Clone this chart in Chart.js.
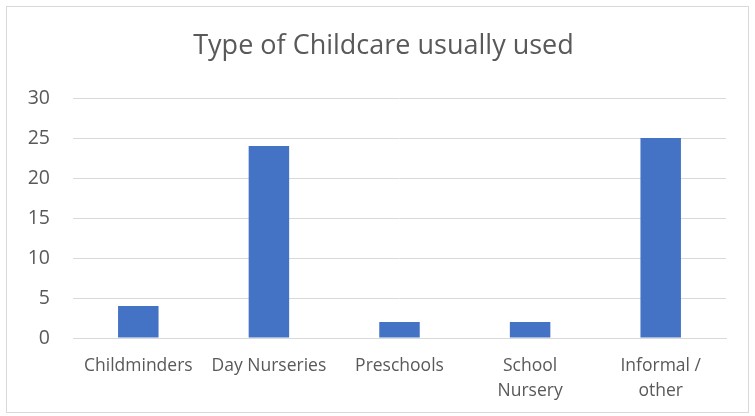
<!DOCTYPE html>
<html>
<head>
<meta charset="utf-8">
<title>Type of Childcare usually used</title>
<script src="https://cdn.jsdelivr.net/npm/chart.js@4.4.1/dist/chart.umd.min.js"></script>
<style>
  html, body { margin: 0; padding: 0; background: #ffffff; }
  #wrap { position: relative; width: 755px; height: 416px; }
</style>
</head>
<body>
<div id="wrap"><canvas id="childcareChart" width="755" height="416"></canvas></div>
<script>
const chartTitle = "Type of Childcare usually used";
const categories = ["Childminders", "Day Nurseries", "Preschools", ["School", "Nursery"], ["Informal /", "other"]];
const counts = [4, 24, 2, 2, 25];
const yTicks = [0, 5, 10, 15, 20, 25, 30];

const textColor = "#595959";
const gridColor = "#d9d9d9";
const fontFamily = "'Open Sans', 'Liberation Sans', sans-serif";

// thin grey frame round the whole chart, plus the title centred in the frame
const frame = {
    id: "frame",
    beforeDraw(chart) {
        const ctx = chart.ctx;
        ctx.save();
        ctx.strokeStyle = gridColor;
        ctx.lineWidth = 1;
        ctx.strokeRect(6.5, 6.5, chart.width - 13, chart.height - 10);

        ctx.fillStyle = textColor;
        ctx.font = "27px " + fontFamily;
        ctx.textAlign = "center";
        ctx.textBaseline = "middle";
        ctx.fillText(chartTitle, chart.width / 2 + 6, 46);
        ctx.restore();
    }
};

const ctx = document.getElementById("childcareChart");

new Chart(ctx, {
    type: "bar",
    data: {
        labels: categories,
        datasets: [{
            data: counts,
            backgroundColor: "#4472c4",
            borderWidth: 0,
            barPercentage: 0.31,
            categoryPercentage: 1
        }]
    },
    options: {
        responsive: false,
        animation: false,
        layout: { padding: { top: 98, right: 29, bottom: 0, left: 0 } },
        plugins: {
            legend: { display: false },
            tooltip: { enabled: false },
            title: { display: false }
        },
        scales: {
            x: {
                grid: { display: false, drawTicks: false },
                border: { color: gridColor, width: 1 },
                ticks: {
                    color: textColor,
                    font: { family: fontFamily, size: 17.5, lineHeight: 1.45 },
                    padding: 15,
                    maxRotation: 0,
                    autoSkip: false
                },
                afterFit(scale) { scale.height = 78; }
            },
            y: {
                min: 0,
                max: 30,
                afterBuildTicks(scale) {
                    scale.ticks = yTicks.map(v => ({ value: v }));
                },
                grid: { color: gridColor, lineWidth: 1, drawTicks: false },
                border: { display: false },
                ticks: {
                    color: textColor,
                    font: { family: fontFamily, size: 19.5 },
                    padding: 23
                },
                afterFit(scale) { scale.width = 73; }
            }
        }
    },
    plugins: [frame]
});
</script>
</body>
</html>
